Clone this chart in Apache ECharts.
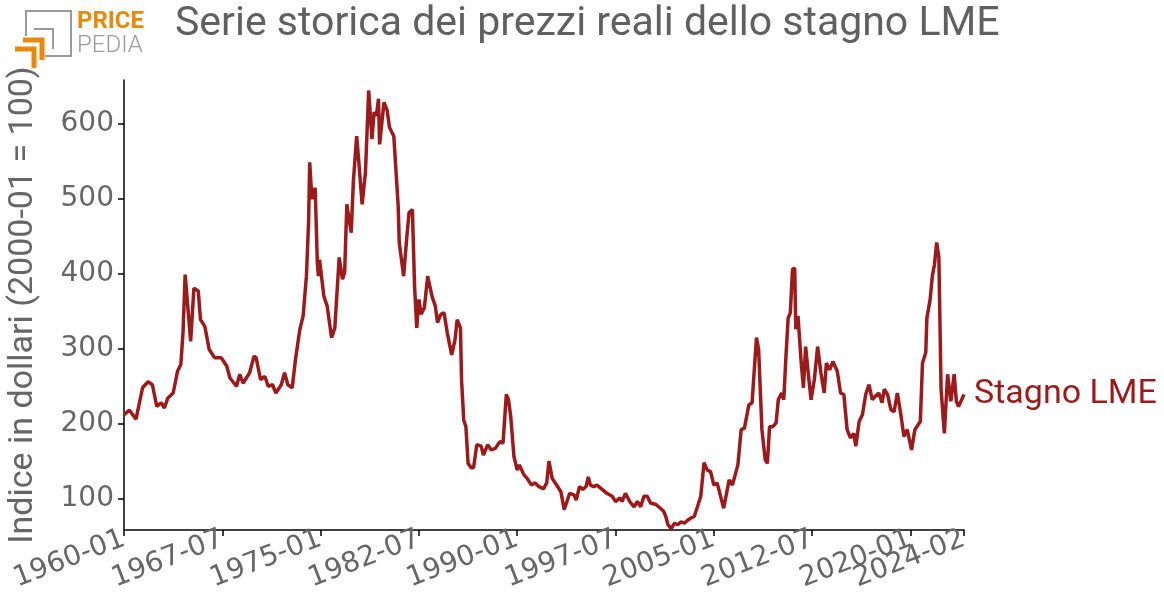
<!DOCTYPE html>
<html>
<head>
<meta charset="utf-8">
<script src="https://cdn.jsdelivr.net/npm/echarts@6/dist/echarts.min.js"></script>
<style>
html,body{margin:0;padding:0;background:#fff;}
#chart{width:1164px;height:610px;}
</style>
</head>
<body>
<div id="chart"></div>
<script>
// Months (YYYY-MM) and values (index, 2000-01 = 100)
const months = [
"1960-01","1960-06","1960-12","1961-06","1961-11","1962-03","1962-07","1962-11","1963-02","1963-05",
"1963-10","1964-02","1964-05","1964-07","1964-09","1965-02","1965-05","1965-09","1965-11","1966-03",
"1966-07","1966-12","1967-06","1967-11","1968-02","1968-08","1968-11","1969-02","1969-08","1969-12",
"1970-02","1970-06","1970-10","1971-01","1971-05","1971-08","1972-01","1972-04","1972-07","1972-11",
"1973-02","1973-06","1973-09","1973-12","1974-02","1974-03","1974-05","1974-08","1974-10","1974-11",
"1974-12","1975-04","1975-07","1975-11","1976-02","1976-06","1976-09","1976-11","1977-01","1977-05",
"1977-07","1977-10","1977-12","1978-03","1978-06","1978-09","1978-12","1979-02","1979-04","1979-06",
"1979-07","1979-11","1980-02","1980-04","1980-08","1980-12","1981-01","1981-05","1981-08","1981-10",
"1982-01","1982-03","1982-05","1982-07","1982-09","1982-12","1983-03","1983-07","1983-10","1983-12",
"1984-03","1984-06","1984-09","1985-01","1985-04","1985-06","1985-09","1985-10","1985-12","1986-02",
"1986-04","1986-07","1986-09","1986-12","1987-04","1987-06","1987-10","1988-01","1988-05","1988-09",
"1988-12","1989-03","1989-05","1989-07","1989-10","1990-01","1990-03","1990-07","1990-10","1991-02",
"1991-05","1991-09","1992-01","1992-04","1992-06","1992-09","1993-01","1993-05","1993-08","1994-01",
"1994-05","1994-07","1994-10","1995-01","1995-04","1995-06","1995-08","1995-11","1996-02","1996-07",
"1996-11","1997-04","1997-07","1997-11","1998-01","1998-04","1998-08","1998-12","1999-03","1999-06",
"1999-09","1999-12","2000-03","2000-08","2000-12","2001-03","2001-05","2001-07","2001-10","2002-01",
"2002-04","2002-07","2002-10","2003-01","2003-04","2003-07","2003-10","2004-01","2004-04","2004-07",
"2004-10","2005-01","2005-04","2005-10","2006-03","2006-06","2006-11","2007-02","2007-05","2007-09",
"2007-12","2008-04","2008-06","2008-09","2008-12","2009-02","2009-04","2009-07","2009-10","2009-12",
"2010-03","2010-05","2010-07","2010-09","2010-11","2011-01","2011-03","2011-04","2011-06","2011-09",
"2011-11","2012-01","2012-04","2012-06","2012-09","2012-12","2013-03","2013-06","2013-08","2013-11",
"2014-02","2014-06","2014-09","2014-12","2015-03","2015-06","2015-09","2015-11","2016-02","2016-05",
"2016-08","2016-11","2017-02","2017-05","2017-08","2017-11","2018-01","2018-04","2018-07","2018-10",
"2019-01","2019-04","2019-07","2019-10","2020-02","2020-05","2020-10","2020-12","2021-03","2021-04",
"2021-07","2021-09","2021-11","2022-01","2022-03","2022-05","2022-08","2022-11","2023-02","2023-05",
"2023-07","2023-09","2024-02"
];
const values = [
212,218,206,248,256,252,223,228,221,234,
241,270,279,321,399,310,381,377,339,330,
299,288,288,277,261,250,266,254,268,290,
288,259,263,250,252,241,252,268,252,248,
286,326,344,397,470,549,500,515,415,397,
419,370,357,315,328,422,393,402,493,455,
524,584,549,493,535,645,580,616,611,634,
573,629,618,596,584,491,442,397,451,482,
486,384,328,366,346,355,397,370,357,335,
346,348,321,292,312,339,328,259,205,196,
147,141,141,172,170,158,172,165,167,176,
174,239,232,210,156,138,145,132,127,118,
121,116,113,121,150,127,118,109,85,107,
105,98,116,112,116,129,118,116,118,112,
107,103,96,101,96,107,96,89,96,89,
103,103,94,92,87,83,76,65,60,67,
65,69,67,71,74,76,89,103,148,138,
136,118,121,87,125,118,145,192,194,225,
228,315,299,192,152,147,196,196,201,232,
241,232,290,341,348,406,408,326,344,281,
248,303,259,232,259,303,268,241,281,272,
283,270,241,239,192,181,187,170,203,212,
239,252,232,237,241,228,246,239,219,216,
241,214,183,192,165,192,203,281,295,341,
366,397,413,442,422,246,187,266,230,266,
230,223,239
];
// Tick labels shown on the x axis
const xTickLabels = ["1960-01","1967-07","1975-01","1982-07","1990-01","1997-07","2005-01","2012-07","2020-01","2024-02"];
const seriesName = "Stagno LME";
const titleText = "Serie storica dei prezzi reali dello stagno LME";
const yAxisTitle = "Indice in dollari (2000-01 = 100)";
const startYear = 1960, endYear = 2024, endMonthNum = 2;

// full monthly category list (axis categories)
const categories = [];
for (let y = startYear; y <= endYear; y++) {
  for (let m = 1; m <= 12; m++) {
    if (y === endYear && m > endMonthNum) break;
    categories.push(y + "-" + (m < 10 ? "0" + m : m));
  }
}
const tickSet = new Set(xTickLabels);
const data = months.map((m, i) => [m, values[i]]);

const chart = echarts.init(document.getElementById('chart'), null, {renderer: 'canvas'});
const lineColor = '#9b1a1c';
const grey = '#666666';

chart.setOption({
  animation: false,
  backgroundColor: '#ffffff',
  title: {
    text: titleText,
    left: 170,
    top: -1,
    textStyle: {fontFamily: 'Roboto', fontSize: 41, fontWeight: 'normal', color: '#606060'}
  },
  graphic: [
    {type: 'polyline', shape: {points: [[26, 36], [26, 11], [71, 11], [71, 56], [45, 56]]}, style: {stroke: '#9a9a9a', lineWidth: 2, fill: null}},
    {type: 'polyline', shape: {points: [[34, 29], [53, 29], [53, 49]]}, style: {stroke: '#9a9a9a', lineWidth: 2, fill: null}},
    {type: 'polyline', shape: {points: [[23, 40], [42, 40], [42, 60]]}, style: {stroke: '#e8890c', lineWidth: 5, fill: null}},
    {type: 'polyline', shape: {points: [[15, 49], [34, 49], [34, 68]]}, style: {stroke: '#e8890c', lineWidth: 5, fill: null}},
    {type: 'text', left: 77, top: 10, style: {text: 'PRICE', fontFamily: 'Roboto', fontWeight: 'bold', fontSize: 24, fill: '#e8890c'}},
    {type: 'text', left: 77, top: 34, style: {text: 'PEDIA', fontFamily: 'Roboto', fontWeight: 300, fontSize: 24, fill: '#9a9a9a'}}
  ],
  grid: {left: 124, right: 200, top: 80, bottom: 80, containLabel: false, outerBoundsMode: 'none'},
  xAxis: {
    type: 'category',
    data: categories,
    boundaryGap: false,
    splitLine: {show: false},
    axisLine: {show: true, onZero: false, lineStyle: {color: '#000', width: 1.5}},
    axisTick: {
      show: true, length: 6, lineStyle: {color: '#000', width: 1.5},
      interval: (idx, val) => tickSet.has(val)
    },
    axisLabel: {
      show: true,
      interval: 0,
      rotate: 21,
      margin: 8,
      hideOverlap: false,
      fontFamily: 'DejaVu Sans',
      fontSize: 28,
      color: grey,
      formatter: v => (tickSet.has(v) ? v : '')
    }
  },
  yAxis: {
    type: 'value',
    min: 58,
    max: 659,
    splitNumber: 6,
    name: yAxisTitle,
    nameLocation: 'middle',
    nameRotate: 90,
    nameGap: 84,
    nameTextStyle: {fontFamily: 'Roboto', fontSize: 34, color: grey},
    splitLine: {show: false},
    axisLine: {show: true, lineStyle: {color: '#000', width: 1.5}},
    axisTick: {show: true, length: 6, lineStyle: {color: '#000', width: 1.5}},
    axisLabel: {
      showMinLabel: false,
      showMaxLabel: false,
      margin: 10,
      fontFamily: 'DejaVu Sans',
      fontSize: 28,
      color: grey
    }
  },
  series: [{
    name: seriesName,
    type: 'line',
    data: data,
    showSymbol: false,
    symbol: 'none',
    lineStyle: {color: lineColor, width: 3.5},
    itemStyle: {color: lineColor},
    endLabel: {
      show: true,
      formatter: seriesName,
      distance: 10,
      fontFamily: 'Roboto',
      fontSize: 34,
      color: lineColor
    }
  }]
});
</script>
</body>
</html>
